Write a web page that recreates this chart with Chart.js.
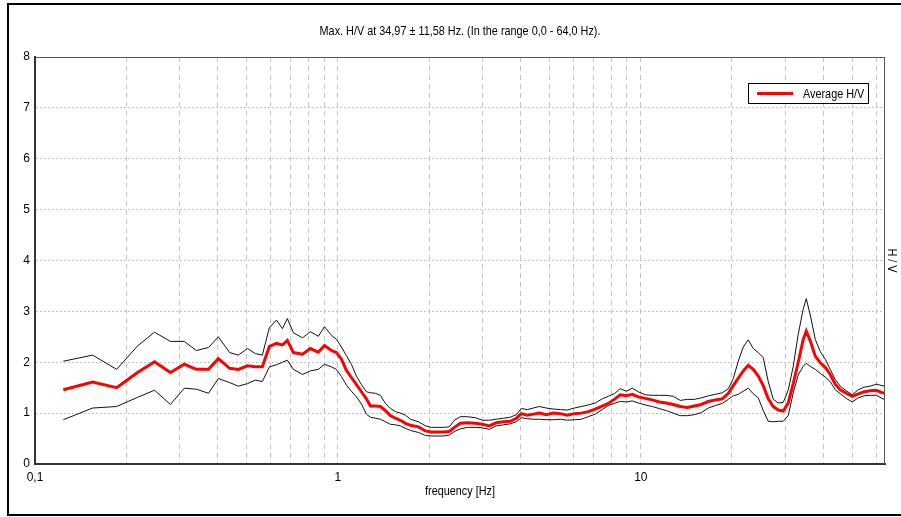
<!DOCTYPE html>
<html>
<head>
<meta charset="utf-8">
<script src="https://cdn.jsdelivr.net/npm/chart.js@4/dist/chart.umd.min.js"></script>
<style>
html,body{margin:0;padding:0;background:#fff;}
#wrap{position:relative;width:901px;height:517px;}
</style>
</head>
<body>
<div id="wrap"><canvas id="c" width="901" height="517"></canvas></div>
<script>
// ---- data ----
const titleText = 'Max. H/V at 34,97 \u00b1 11,58 Hz. (In the range 0,0 - 64,0 Hz).';
const xTitle = 'frequency [Hz]';
const yTitle = 'H / V';
const legendLabel = 'Average H/V';

const freqs = [0.124,0.155,0.186,0.218,0.248,0.280,0.311,0.341,0.374,0.403,0.439,0.469,0.503,0.534,0.563,0.594,0.627,0.656,0.681,0.713,0.764,0.811,0.862,0.903,0.952,0.989,
1.027,1.067,1.108,1.151,1.196,1.242,1.280,1.330,1.381,1.435,1.491,1.548,1.608,1.671,1.735,1.844,1.945,2.035,2.130,2.229,2.333,2.424,2.537,2.676,2.844,2.999,3.162,3.335,3.517,3.709,3.882,4.033,4.221,4.418,4.624,4.876,5.142,5.423,5.719,6.031,6.360,6.707,7.073,7.459,7.808,8.173,8.555,8.956,9.374,9.81,
10.35,10.91,11.51,12.14,12.80,13.50,14.24,15.02,15.84,16.70,17.62,18.58,19.45,20.20,20.98,21.79,22.63,23.51,24.42,25.36,26.35,27.37,28.42,29.52,30.67,31.86,33.09,34.38,35.17,36.26,37.67,39.13,40.64,42.21,43.85,45.55,47.67,49.89,52.22,54.65,57.20,59.86,63.6];

const avgHV = [1.46,1.61,1.50,1.80,2.01,1.80,1.96,1.86,1.86,2.07,1.88,1.86,1.93,1.91,1.91,2.31,2.37,2.34,2.43,2.19,2.16,2.27,2.20,2.33,2.23,2.19,
2.06,1.84,1.70,1.56,1.42,1.28,1.14,1.14,1.13,1.05,0.95,0.90,0.86,0.80,0.76,0.73,0.65,0.63,0.63,0.63,0.64,0.72,0.80,0.81,0.80,0.78,0.75,0.81,0.83,0.84,0.90,0.99,0.96,0.98,1.00,0.97,1.00,0.99,0.96,0.99,1.00,1.03,1.08,1.14,1.19,1.27,1.36,1.34,1.37,1.32,
1.29,1.26,1.22,1.20,1.17,1.13,1.11,1.14,1.17,1.23,1.26,1.28,1.39,1.54,1.69,1.83,1.94,1.86,1.73,1.54,1.28,1.13,1.06,1.04,1.20,1.58,2.00,2.45,2.61,2.42,2.12,1.99,1.90,1.76,1.57,1.46,1.39,1.33,1.38,1.42,1.44,1.45,1.39];

const upperHV = [2.02,2.14,1.86,2.32,2.59,2.41,2.41,2.23,2.29,2.50,2.19,2.14,2.27,2.17,2.14,2.68,2.83,2.66,2.86,2.58,2.48,2.60,2.51,2.70,2.53,2.45,
2.30,2.13,1.96,1.73,1.56,1.42,1.40,1.39,1.35,1.19,1.09,1.03,1.00,0.96,0.88,0.83,0.75,0.72,0.72,0.72,0.73,0.86,0.93,0.93,0.91,0.86,0.86,0.88,0.90,0.92,0.97,1.09,1.07,1.10,1.13,1.10,1.08,1.07,1.06,1.10,1.13,1.16,1.20,1.28,1.33,1.38,1.48,1.43,1.49,1.42,
1.36,1.35,1.35,1.35,1.33,1.25,1.27,1.27,1.30,1.34,1.37,1.40,1.48,1.68,2.02,2.30,2.44,2.27,2.19,2.09,1.62,1.27,1.20,1.21,1.45,1.92,2.55,3.05,3.25,2.93,2.45,2.21,2.06,1.86,1.66,1.53,1.44,1.36,1.46,1.51,1.53,1.57,1.53];

const lowerHV = [0.87,1.10,1.13,1.31,1.45,1.17,1.49,1.47,1.39,1.68,1.60,1.53,1.58,1.65,1.62,1.91,1.95,2.00,2.04,1.86,1.76,1.83,1.86,1.96,1.91,1.86,
1.72,1.55,1.43,1.32,1.18,0.98,0.92,0.90,0.88,0.83,0.78,0.77,0.75,0.70,0.66,0.62,0.56,0.55,0.55,0.55,0.57,0.64,0.69,0.72,0.72,0.71,0.68,0.75,0.77,0.79,0.83,0.91,0.89,0.88,0.88,0.87,0.87,0.88,0.86,0.87,0.88,0.93,0.98,1.07,1.15,1.19,1.23,1.22,1.24,1.20,
1.16,1.13,1.09,1.05,1.00,0.95,0.95,0.97,1.01,1.10,1.15,1.19,1.27,1.34,1.37,1.43,1.49,1.38,1.30,1.05,0.84,0.83,0.84,0.84,0.95,1.40,1.75,1.92,1.98,1.92,1.86,1.78,1.71,1.62,1.46,1.38,1.29,1.22,1.30,1.34,1.35,1.35,1.27];

const xGridValues = [0.1,0.2,0.3,0.4,0.5,0.6,0.7,0.8,0.9,1,2,3,4,5,6,7,8,9,10,20,30,40,50,60];
const xLabelValues = [0.1, 1, 10];
const xLabelTexts = ['0,1', '1', '10'];
const yMin = 0, yMax = 8, yStep = 1;
const xMin = 0.1, xMax = 64;

// ---- chart ----
const FONT = '"Liberation Sans Narrow", "Arial Narrow", "Liberation Sans", Arial, sans-serif';
const NARROW = 0.835;
const toPts = (vals) => freqs.map((f, i) => ({x: f, y: vals[i]}));

function narrowText(ctx, text, x, y, align) {
  ctx.save();
  ctx.translate(x, y);
  ctx.scale(NARROW, 1);
  ctx.textAlign = align;
  ctx.fillText(text, 0, 0);
  ctx.restore();
}

const decor = {
  id: 'decor',
  afterDraw(chart) {
    const ctx = chart.ctx, a = chart.chartArea;
    ctx.save();
    // outer frame
    ctx.strokeStyle = '#000';
    ctx.lineWidth = 2;
    ctx.strokeRect(8, 4, 920, 511);
    // plot border (top & right)
    ctx.lineWidth = 1;
    ctx.strokeStyle = '#555';
    ctx.beginPath();
    ctx.moveTo(a.left, a.top + 0.5); ctx.lineTo(a.right, a.top + 0.5);
    ctx.moveTo(a.right - 0.5, a.top); ctx.lineTo(a.right - 0.5, a.bottom);
    ctx.stroke();
    // title
    ctx.fillStyle = '#000';
    ctx.font = '13px ' + FONT;
    ctx.textBaseline = 'middle';
    narrowText(ctx, titleText, (a.left + a.right) / 2, 31, 'center');
    // x title
    narrowText(ctx, xTitle, (a.left + a.right) / 2, 491, 'center');
    // right y title rotated clockwise
    ctx.save();
    ctx.translate(892, (a.top + a.bottom) / 2);
    ctx.rotate(Math.PI / 2);
    narrowText(ctx, yTitle, 0, 0, 'center');
    ctx.restore();
    // legend
    const ds = chart.data.datasets[0];
    ctx.fillStyle = '#fff';
    ctx.fillRect(748.5, 83.5, 120, 20);
    ctx.strokeStyle = '#000';
    ctx.lineWidth = 1;
    ctx.strokeRect(748.5, 83.5, 120, 20);
    ctx.strokeStyle = ds.borderColor;
    ctx.lineWidth = 3;
    ctx.beginPath();
    ctx.moveTo(757, 93.5); ctx.lineTo(793, 93.5);
    ctx.stroke();
    ctx.fillStyle = '#000';
    narrowText(ctx, ds.label, 803, 94, 'left');
    ctx.restore();
  }
};

new Chart(document.getElementById('c'), {
  type: 'line',
  data: {
    datasets: [
      {label: legendLabel, data: toPts(avgHV), borderColor: '#ff0000', borderWidth: 3, pointRadius: 0, tension: 0, order: 0},
      {label: 'upper', data: toPts(upperHV), borderColor: '#111', borderWidth: 1, pointRadius: 0, tension: 0, order: 1},
      {label: 'lower', data: toPts(lowerHV), borderColor: '#111', borderWidth: 1, pointRadius: 0, tension: 0, order: 1}
    ]
  },
  options: {
    responsive: false,
    animation: false,
    devicePixelRatio: 1,
    layout: {padding: {left: 0, top: 57, right: 16, bottom: 0}},
    plugins: {legend: {display: false}, tooltip: {enabled: false}, title: {display: false}},
    scales: {
      x: {
        type: 'logarithmic',
        min: xMin, max: xMax,
        afterBuildTicks: (s) => { s.ticks = xGridValues.map(v => ({value: v})); },
        afterFit: (s) => { s.height = 53; },
        ticks: {
          autoSkip: false, maxRotation: 0, padding: 6,
          color: '#000', font: {family: FONT, size: 12},
          callback: (v) => { const k = xLabelValues.findIndex(t => Math.abs(t - v) < 1e-9); return k >= 0 ? xLabelTexts[k] : ''; }
        },
        grid: {color: '#c4c4c4', lineWidth: 1, drawTicks: false},
        border: {color: '#333', width: 2, dash: [5, 4]}
      },
      y: {
        min: yMin, max: yMax,
        afterFit: (s) => { s.width = 35; },
        ticks: {stepSize: yStep, padding: 5, color: '#000', font: {family: FONT, size: 12}},
        grid: {color: '#c4c4c4', lineWidth: 1, drawTicks: false},
        border: {color: '#333', width: 2, dash: [2, 2]}
      }
    }
  },
  plugins: [decor]
});
</script>
</body>
</html>
